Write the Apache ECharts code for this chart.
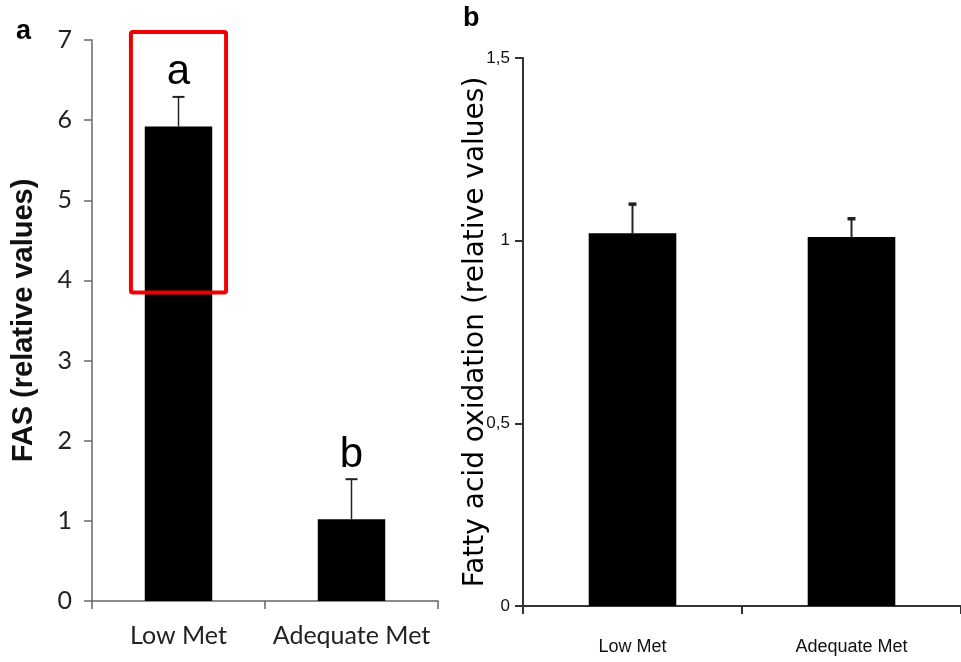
<!DOCTYPE html>
<html>
<head>
<meta charset="utf-8">
<script src="https://cdn.jsdelivr.net/npm/echarts@6/dist/echarts.min.js"></script>
<style>html,body{margin:0;padding:0;background:#fff}#c{width:961px;height:662px}</style>
</head>
<body>
<div id="c"></div>
<script>
const categories = ['Low Met', 'Adequate Met'];
const fasValues = [5.92, 1.02];
const fasErrors = [0.37, 0.50];
const fasLetters = ['a', 'b'];
const faoValues = [1.02, 1.01];
const faoErrors = [0.08, 0.05];
const fasTicks = { min: 0, max: 7, interval: 1 };
const faoTicks = { min: 0, max: 1.5, interval: 0.5 };
const highlightBox = [0, 3.85, 7.1]; // category index, from, to

const chart = echarts.init(document.getElementById('c'));

function errItem(capHalf, capW, lineW, letterFont, letterGap) {
  return function (params, api) {
    const i = api.value(0);
    const v = api.value(1);
    const e = api.value(2);
    const base = api.coord([i, v]);
    const top = api.coord([i, v + e]);
    const children = [
      { type: 'line', shape: { x1: base[0], y1: base[1], x2: top[0], y2: top[1] }, style: { stroke: '#222', lineWidth: lineW } },
      { type: 'line', shape: { x1: top[0] - capHalf, y1: top[1], x2: top[0] + capHalf, y2: top[1] }, style: { stroke: '#222', lineWidth: capW } }
    ];
    const letter = api.value(3);
    if (letter && letterFont) {
      children.push({ type: 'text', x: top[0], y: top[1] - letterGap, style: { text: letter, font: letterFont, fill: '#000', align: 'center', verticalAlign: 'bottom' } });
    }
    return { type: 'group', children: children };
  };
}

const leftFont = 'Lato';
const rightFont = '"Liberation Sans"';

chart.setOption({
  animation: false,
  graphic: [
    { type: 'text', left: 16, top: 18, style: { text: 'a', font: 'bold 27px "Liberation Sans"', fill: '#000' } },
    { type: 'text', left: 463, top: 5, style: { text: 'b', font: 'bold 27px "Liberation Sans"', fill: '#000' } }
  ],
  grid: [
    { left: 92, top: 40, width: 346, bottom: 61 },
    { left: 523, top: 58, right: -7, bottom: 56 }
  ],
  xAxis: [
    {
      type: 'category', gridIndex: 0, data: categories,
      axisLine: { lineStyle: { color: '#666', width: 1.5 } },
      axisTick: { show: true, length: 8, lineStyle: { color: '#666', width: 1.5 } },
      axisLabel: { interval: 0, hideOverlap: false, margin: 22, fontFamily: leftFont, fontSize: 25, color: '#222' }
    },
    {
      type: 'category', gridIndex: 1, data: categories,
      axisLine: { lineStyle: { color: '#333', width: 2 } },
      axisTick: { show: true, length: 8, lineStyle: { color: '#333', width: 2 } },
      axisLabel: { interval: 0, hideOverlap: false, margin: 32, fontFamily: rightFont, fontSize: 18, color: '#111' }
    }
  ],
  yAxis: [
    {
      type: 'value', gridIndex: 0, min: fasTicks.min, max: fasTicks.max, interval: fasTicks.interval,
      name: 'FAS (relative values)', nameLocation: 'middle', nameGap: 54, nameRotate: 90, nameMoveOverlap: false,
      nameTextStyle: { fontFamily: 'Liberation Sans', fontWeight: 'bold', fontSize: 29, color: '#111' },
      axisLine: { show: true, lineStyle: { color: '#666', width: 1.5 } },
      axisTick: { show: true, length: 8, lineStyle: { color: '#666', width: 1.5 } },
      splitLine: { show: false },
      axisLabel: { margin: 20, fontFamily: leftFont, fontSize: 25, color: '#222' }
    },
    {
      type: 'value', gridIndex: 1, min: faoTicks.min, max: faoTicks.max, interval: faoTicks.interval,
      name: 'Fatty acid oxidation (relative values)', nameLocation: 'middle', nameGap: 33, nameRotate: 90, nameMoveOverlap: false,
      nameTextStyle: { fontFamily: 'DejaVu Sans', fontSize: 28, color: '#000' },
      axisLine: { show: true, lineStyle: { color: '#333', width: 2 } },
      axisTick: { show: true, length: 8, lineStyle: { color: '#333', width: 2 } },
      splitLine: { show: false },
      axisLabel: { margin: 13, fontFamily: rightFont, fontSize: 17, color: '#111',
        formatter: function (v) { return String(v).replace('.', ','); } }
    }
  ],
  series: [
    { type: 'bar', xAxisIndex: 0, yAxisIndex: 0, data: fasValues, barWidth: '39%', itemStyle: { color: '#000' } },
    { type: 'custom', xAxisIndex: 0, yAxisIndex: 0, renderItem: errItem(6, 2, 1.5, '42px "Liberation Sans"', 3),
      data: fasValues.map((v, i) => [i, v, fasErrors[i], fasLetters[i]]), z: 5 },
    { type: 'custom', xAxisIndex: 0, yAxisIndex: 0, clip: false,
      renderItem: function (params, api) {
        const band = api.size([1, 0])[0];
        const lo = api.coord([api.value(0), api.value(1)]);
        const hi = api.coord([api.value(0), api.value(2)]);
        return { type: 'rect', shape: { x: lo[0] - band * 0.275, y: hi[1], width: band * 0.55, height: lo[1] - hi[1], r: 2 },
          style: { fill: 'none', stroke: '#ee0000', lineWidth: 4 } };
      },
      data: [highlightBox], z: 10 },
    { type: 'bar', xAxisIndex: 1, yAxisIndex: 1, data: faoValues, barWidth: '40%', itemStyle: { color: '#000' } },
    { type: 'custom', xAxisIndex: 1, yAxisIndex: 1, renderItem: errItem(4, 3.5, 2, null, 0),
      data: faoValues.map((v, i) => [i, v, faoErrors[i], '']), z: 5 }
  ]
});
</script>
</body>
</html>
